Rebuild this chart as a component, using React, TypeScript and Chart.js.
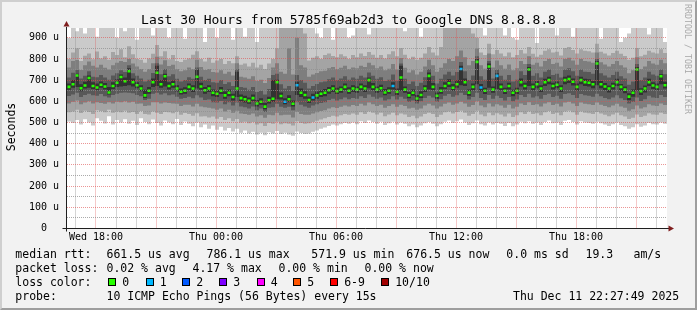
import React, { useEffect, useRef } from 'react';
import { Chart, registerables } from 'chart.js';

Chart.register(...registerables);

const MONO = "'DejaVu Sans Mono', monospace";

// time window (hours since Wed 00:00)
const START_HOUR = 16.55;
const END_HOUR = 46.55;
const SLOT_HOURS = 0.2;

// median RTT per 12-minute slot (microseconds)
const median = [
  668, 680, 722, 662, 675, 710, 672, 665, 678, 670,
  642, 672, 688, 715, 695, 742, 690, 676, 660, 628,
  650, 690, 735, 680, 718, 672, 680, 660, 645, 650,
  668, 660, 716, 670, 652, 660, 640, 636, 650, 628,
  640, 620, 660, 615, 610, 602, 615, 590, 598, 575,
  605, 612, 690, 625, 598, 610, 588, 676, 640, 630,
  606, 618, 628, 636, 640, 652, 660, 648, 655, 668,
  650, 660, 655, 668, 660, 700, 668, 655, 662, 642,
  650, 672, 645, 712, 655, 628, 640, 613, 630, 660,
  720, 668, 626, 650, 672, 685, 664, 680, 752, 690,
  641, 668, 786, 665, 650, 764, 655, 720, 668, 650,
  672, 640, 650, 690, 672, 750, 668, 680, 660, 690,
  700, 672, 678, 660, 700, 705, 692, 668, 700, 690,
  688, 680, 778, 680, 670, 660, 672, 690, 668, 655,
  622, 640, 750, 648, 660, 690, 675, 668, 718, 676,
];

// slots with packet loss (pings lost of 10)
const lossSlots = [54, 57, 61, 81, 98, 103, 107];
const lossCounts = [1, 1, 1, 1, 1, 1, 1];

// smoke bands: sorted ping ranges per slot (outer A .. inner E)
const bandA_lo = [
  505, 498, 512, 490, 515, 500, 486, 520, 508, 495,
  530, 490, 512, 500, 515, 494, 508, 488, 520, 502,
  492, 514, 498, 486, 510, 500, 492, 516, 488, 505,
  494, 482, 500, 478, 490, 470, 486, 466, 480, 462,
  474, 458, 470, 452, 462, 448, 456, 444, 452, 440,
  454, 448, 460, 446, 452, 444, 438, 458, 450, 446,
  448, 456, 462, 470, 476, 484, 490, 486, 492, 498,
  494, 500, 492, 506, 498, 510, 502, 494, 504, 488,
  496, 504, 490, 500, 494, 482, 490, 478, 486, 496,
  502, 494, 482, 492, 504, 510, 498, 506, 514, 500,
  488, 496, 510, 492, 486, 500, 490, 498, 494, 484,
  498, 482, 490, 504, 496, 506, 494, 500, 488, 502,
  510, 496, 500, 488, 508, 512, 502, 490, 506, 500,
  498, 494, 504, 496, 490, 484, 492, 500, 488, 482,
  470, 478, 492, 480, 486, 498, 492, 490, 500, 494,
];
const bandB_lo = [
  548, 552, 560, 545, 556, 550, 540, 558, 554, 548,
  560, 546, 552, 548, 556, 546, 550, 540, 554, 540,
  538, 552, 546, 540, 550, 548, 544, 552, 536, 545,
  540, 532, 544, 528, 530, 524, 528, 518, 526, 512,
  520, 506, 516, 500, 504, 496, 502, 490, 496, 484,
  498, 494, 504, 492, 496, 494, 486, 506, 498, 494,
  496, 502, 508, 514, 520, 526, 532, 528, 534, 540,
  536, 542, 536, 548, 540, 552, 546, 538, 546, 530,
  538, 546, 534, 542, 538, 526, 532, 520, 528, 540,
  546, 540, 526, 536, 548, 552, 542, 550, 556, 546,
  532, 540, 556, 538, 530, 546, 534, 544, 538, 528,
  542, 526, 534, 548, 540, 552, 540, 544, 534, 548,
  554, 540, 546, 534, 552, 556, 548, 536, 552, 546,
  544, 540, 550, 542, 536, 530, 538, 546, 534, 528,
  516, 522, 538, 526, 532, 544, 538, 536, 546, 540,
];
const bandC_lo = [
  590, 598, 604, 586, 594, 600, 590, 596, 592, 588,
  596, 590, 598, 596, 600, 594, 598, 588, 590, 578,
  580, 596, 596, 590, 594, 592, 590, 588, 578, 584,
  584, 576, 588, 576, 572, 570, 566, 560, 566, 552,
  560, 546, 556, 542, 540, 536, 542, 528, 534, 522,
  536, 534, 546, 534, 536, 536, 524, 550, 540, 536,
  536, 542, 548, 554, 558, 566, 572, 568, 574, 580,
  576, 582, 578, 588, 580, 594, 586, 578, 584, 570,
  578, 586, 574, 584, 578, 566, 570, 560, 566, 580,
  588, 580, 566, 576, 588, 594, 584, 590, 598, 590,
  574, 582, 600, 580, 572, 590, 576, 586, 580, 570,
  584, 566, 574, 590, 582, 596, 582, 586, 576, 590,
  596, 582, 588, 576, 594, 598, 590, 578, 594, 588,
  586, 582, 594, 584, 578, 572, 580, 588, 576, 570,
  556, 562, 580, 566, 572, 586, 580, 578, 590, 582,
];
const bandD_lo = [
  625, 632, 640, 620, 630, 636, 628, 626, 634, 624,
  618, 630, 636, 640, 642, 640, 638, 630, 624, 606,
  612, 636, 640, 632, 638, 628, 632, 622, 612, 616,
  622, 614, 628, 618, 606, 608, 596, 594, 602, 586,
  596, 580, 594, 576, 572, 566, 576, 558, 566, 550,
  570, 572, 588, 574, 570, 574, 558, 596, 584, 576,
  570, 580, 586, 592, 596, 606, 612, 604, 610, 618,
  610, 616, 612, 624, 616, 632, 622, 612, 618, 604,
  610, 624, 608, 622, 612, 598, 604, 590, 600, 616,
  626, 618, 598, 610, 626, 634, 622, 628, 640, 630,
  608, 620, 640, 616, 606, 630, 612, 626, 616, 604,
  620, 600, 608, 630, 620, 636, 618, 624, 612, 630,
  636, 620, 626, 612, 634, 638, 630, 616, 634, 628,
  626, 622, 636, 624, 616, 610, 618, 628, 614, 606,
  590, 598, 618, 602, 610, 626, 618, 616, 630, 620,
];
const bandE_lo = [
  655, 664, 668, 648, 660, 664, 658, 652, 664, 656,
  632, 658, 668, 670, 672, 676, 670, 662, 648, 616,
  636, 668, 672, 664, 670, 656, 664, 646, 632, 636,
  652, 644, 660, 654, 636, 644, 624, 620, 634, 612,
  624, 604, 620, 600, 594, 588, 600, 576, 584, 562,
  590, 598, 610, 608, 586, 596, 576, 630, 620, 612,
  592, 604, 612, 620, 624, 636, 644, 634, 640, 652,
  636, 644, 640, 652, 644, 662, 652, 640, 646, 628,
  636, 656, 630, 650, 640, 614, 626, 600, 616, 644,
  656, 652, 612, 636, 658, 668, 650, 664, 676, 672,
  626, 652, 680, 648, 634, 664, 640, 658, 652, 634,
  656, 624, 634, 670, 656, 672, 652, 662, 644, 672,
  680, 656, 662, 644, 680, 686, 674, 650, 680, 672,
  670, 662, 676, 662, 652, 642, 656, 672, 650, 638,
  606, 622, 650, 630, 642, 672, 658, 652, 680, 660,
];
const bandE_hi = [
  684, 700, 730, 680, 692, 722, 690, 684, 694, 686,
  668, 690, 704, 726, 712, 756, 708, 690, 676, 654,
  668, 708, 768, 700, 730, 690, 698, 676, 660, 666,
  684, 676, 750, 688, 668, 676, 656, 652, 668, 646,
  656, 636, 740, 632, 626, 618, 632, 606, 614, 592,
  622, 700, 702, 642, 614, 628, 604, 692, 660, 648,
  622, 636, 646, 652, 658, 668, 676, 664, 670, 684,
  666, 676, 670, 684, 676, 712, 686, 670, 678, 658,
  666, 690, 660, 768, 670, 644, 656, 630, 648, 676,
  736, 686, 642, 668, 690, 704, 682, 700, 768, 708,
  656, 684, 800, 682, 664, 778, 670, 732, 684, 664,
  688, 654, 664, 708, 688, 762, 684, 696, 676, 706,
  716, 688, 694, 676, 716, 722, 708, 684, 716, 706,
  704, 696, 790, 696, 686, 674, 688, 706, 682, 670,
  638, 656, 762, 662, 674, 706, 690, 684, 728, 692,
];
const bandD_hi = [
  712, 735, 748, 708, 720, 742, 716, 714, 724, 712,
  702, 722, 732, 746, 738, 770, 732, 720, 708, 694,
  702, 734, 780, 728, 752, 718, 728, 706, 694, 700,
  714, 706, 760, 716, 700, 706, 690, 688, 700, 682,
  690, 672, 752, 668, 664, 654, 668, 644, 650, 632,
  658, 724, 730, 680, 660, 672, 650, 724, 700, 688,
  660, 672, 682, 690, 694, 704, 712, 700, 708, 718,
  702, 712, 706, 720, 712, 736, 720, 706, 714, 696,
  702, 726, 698, 778, 706, 682, 694, 672, 688, 714,
  752, 720, 684, 706, 726, 740, 722, 738, 786, 742,
  700, 722, 812, 718, 702, 790, 708, 750, 720, 702,
  724, 694, 702, 742, 724, 776, 720, 732, 712, 740,
  750, 724, 730, 712, 750, 756, 742, 720, 750, 740,
  738, 730, 800, 732, 722, 712, 724, 740, 718, 708,
  678, 694, 776, 700, 712, 740, 726, 720, 750, 728,
];
const bandC_hi = [
  760, 790, 795, 748, 770, 788, 768, 760, 772, 758,
  750, 770, 782, 790, 786, 800, 778, 764, 752, 740,
  752, 780, 810, 774, 794, 766, 772, 752, 742, 746,
  760, 752, 796, 762, 748, 752, 738, 736, 746, 730,
  740, 722, 780, 716, 712, 706, 718, 696, 702, 686,
  710, 760, 780, 740, 730, 850, 726, 900, 770, 760,
  716, 726, 734, 742, 744, 756, 762, 752, 758, 768,
  752, 760, 756, 768, 762, 782, 770, 756, 764, 746,
  754, 776, 750, 804, 758, 736, 746, 726, 740, 764,
  796, 770, 740, 758, 780, 800, 790, 812, 840, 808,
  770, 790, 850, 770, 754, 826, 760, 792, 770, 754,
  774, 746, 756, 790, 776, 812, 772, 782, 764, 790,
  800, 776, 782, 764, 800, 806, 792, 772, 800, 790,
  788, 782, 830, 784, 774, 764, 776, 790, 770, 760,
  732, 746, 808, 752, 764, 790, 778, 772, 796, 780,
];
const bandB_hi = [
  800, 830, 850, 790, 815, 826, 798, 835, 802, 812,
  796, 832, 818, 846, 808, 860, 822, 800, 796, 782,
  802, 824, 866, 812, 836, 798, 818, 790, 786, 796,
  802, 820, 836, 800, 788, 806, 782, 792, 800, 776,
  790, 780, 812, 772, 778, 764, 782, 760, 772, 752,
  778, 800, 850, 1000, 1000, 1000, 1000, 1000, 1000, 920,
  792, 806, 812, 800, 818, 826, 814, 808, 822, 812,
  800, 818, 808, 826, 814, 832, 820, 806, 818, 802,
  822, 836, 812, 852, 820, 800, 810, 796, 806, 826,
  856, 830, 816, 856, 1000, 1000, 1000, 1000, 1000, 1000,
  1000, 920, 900, 830, 818, 872, 822, 842, 826, 812,
  830, 808, 818, 842, 826, 856, 824, 810, 820, 838,
  846, 830, 834, 816, 852, 856, 842, 826, 846, 838,
  836, 830, 872, 834, 826, 816, 828, 838, 824, 814,
  796, 806, 852, 812, 820, 838, 830, 826, 846, 828,
];
const bandA_hi = [
  900, 1000, 930, 1000, 920, 1000, 1000, 905, 1000, 1000,
  1000, 1000, 900, 1000, 930, 1000, 1000, 890, 1000, 1000,
  1000, 910, 1000, 1000, 1000, 900, 1000, 1000, 1000, 895,
  1000, 1000, 1000, 1000, 880, 1000, 1000, 900, 1000, 1000,
  1000, 890, 1000, 1000, 905, 1000, 1000, 880, 1000, 1000,
  1000, 1000, 1000, 1000, 1000, 1000, 1000, 1000, 1000, 1000,
  1000, 1000, 920, 900, 1000, 1000, 890, 1000, 1000, 1000,
  900, 910, 1000, 1000, 1000, 915, 1000, 1000, 1000, 1000,
  1000, 1000, 1000, 1000, 930, 1000, 1000, 1000, 905, 1000,
  1000, 1000, 1000, 1000, 1000, 1000, 1000, 1000, 1000, 1000,
  1000, 1000, 1000, 1000, 910, 1000, 1000, 1000, 1000, 910,
  1000, 900, 890, 1000, 1000, 1000, 1000, 875, 1000, 1000,
  1000, 1000, 910, 1000, 1000, 1000, 905, 1000, 1000, 1000,
  1000, 1000, 1000, 895, 1000, 1000, 1000, 1000, 880, 900,
  920, 1000, 1000, 1000, 1000, 915, 1000, 1000, 1000, 880,
];

// axes
const xGridHours = [17, 18, 19, 20, 21, 22, 23, 24, 25, 26, 27, 28, 29, 30, 31, 32, 33, 34, 35, 36, 37, 38, 39, 40, 41, 42, 43, 44, 45, 46];
const xLabelHours = [18, 24, 30, 36, 42];
const xLabels = ['Wed 18:00', 'Thu 00:00', 'Thu 06:00', 'Thu 12:00', 'Thu 18:00'];
const yGridValues = [0, 50, 100, 150, 200, 250, 300, 350, 400, 450, 500, 550, 600, 650, 700, 750, 800, 850, 900];
const yLabelValues = [0, 100, 200, 300, 400, 500, 600, 700, 800, 900];
const yLabels = ['0  ', '100 u', '200 u', '300 u', '400 u', '500 u', '600 u', '700 u', '800 u', '900 u'];
const Y_MAX = 945.8;

// legend
const lossLabels = ['0', '1', '2', '3', '4', '5', '6-9', '10/10'];
const lossColors = ['#26ff00', '#00b8ff', '#0059ff', '#7e00ff', '#ff00ff', '#ff5500', '#ff0000', '#a10000'];
const lossBoxX = [108, 145.5, 182, 219, 256.5, 293, 330, 381];

const SMOKE_COLORS = ['#cacaca', '#a4a4a4', '#7e7e7e', '#585858', '#323232'];
const GRID = 'rgba(143,143,143,0.75)';
const MGRID = 'rgba(222,79,79,0.6)';
const MEDIAN_HALF = 6;

const lossColorIndex = (c: number) => (c <= 5 ? c : c < 10 ? 6 : 7);

const rrdPlugin = {
  id: 'rrdCanvas',
  beforeDraw(chart: any) {
    const { ctx, chartArea } = chart;
    ctx.save();
    ctx.fillStyle = '#ffffff';
    ctx.fillRect(chartArea.left, chartArea.top, chartArea.right - chartArea.left, chartArea.bottom - chartArea.top);
    ctx.restore();
  },
  afterDatasetsDraw(chart: any) {
    // dotted rrdtool grid drawn over the smoke
    const { ctx, chartArea, scales } = chart;
    ctx.save();
    ctx.lineWidth = 1;
    ctx.setLineDash([1, 1]);
    scales.x.ticks.forEach((t: any) => {
      const px = Math.floor(scales.x.getPixelForValue(t.value)) + 0.5;
      ctx.strokeStyle = t.value % 3 === 0 ? MGRID : GRID;
      ctx.beginPath();
      ctx.moveTo(px, chartArea.bottom);
      ctx.lineTo(px, chartArea.top);
      ctx.stroke();
    });
    scales.y.ticks.forEach((t: any) => {
      if (t.value === 0) return;
      const py = Math.floor(scales.y.getPixelForValue(t.value)) + 0.5;
      ctx.strokeStyle = t.value % 100 === 0 ? MGRID : GRID;
      ctx.beginPath();
      ctx.moveTo(chartArea.left, py);
      ctx.lineTo(chartArea.right, py);
      ctx.stroke();
    });
    ctx.restore();
  },
  afterDraw(chart: any) {
    const { ctx, chartArea } = chart;
    const y0 = Math.floor(chart.scales.y.getPixelForValue(0)) + 0.5;
    const x0 = Math.round(chartArea.left) - 0.5;
    ctx.save();
    ctx.strokeStyle = '#1f1f1f';
    ctx.lineWidth = 1;
    ctx.beginPath();
    ctx.moveTo(x0 - 4, y0);
    ctx.lineTo(chartArea.right + 2, y0);
    ctx.moveTo(x0, y0 + 3);
    ctx.lineTo(x0, chartArea.top - 1);
    ctx.stroke();
    ctx.fillStyle = '#801f1f';
    ctx.beginPath();
    ctx.moveTo(chartArea.right + 1.5, y0 - 3);
    ctx.lineTo(chartArea.right + 7, y0);
    ctx.lineTo(chartArea.right + 1.5, y0 + 3);
    ctx.closePath();
    ctx.fill();
    ctx.beginPath();
    ctx.moveTo(x0 - 3, chartArea.top - 1.5);
    ctx.lineTo(x0, chartArea.top - 7);
    ctx.lineTo(x0 + 3, chartArea.top - 1.5);
    ctx.closePath();
    ctx.fill();
    ctx.restore();
  },
};

function Txt(props: { x: number; base: number; size: number; color?: string; children: any }) {
  const { x, base, size, color, children } = props;
  return (
    <div
      style={{
        position: 'absolute',
        left: x,
        top: base - 0.846 * size,
        fontSize: size,
        lineHeight: `${size}px`,
        whiteSpace: 'pre',
        color: color || '#000',
        fontFamily: MONO,
      }}
    >
      {children}
    </div>
  );
}

export default function App() {
  const ref = useRef<HTMLCanvasElement | null>(null);

  useEffect(() => {
    if (!ref.current) return;
    const slotHours = median.map((_, i) => START_HOUR + SLOT_HOURS * (i + 0.5));
    const band = (lo: number[], hi: number[]) => lo.map((v, i) => ({ x: slotHours[i], y: [v, hi[i]] }));
    const medianColors = median.map((_, i) => {
      const k = lossSlots.indexOf(i);
      return lossColors[lossColorIndex(k >= 0 ? lossCounts[k] : 0)];
    });
    const common = {
      type: 'bar' as const,
      grouped: false,
      barPercentage: 1,
      categoryPercentage: 1,
      borderWidth: 0,
      borderSkipped: false,
      inflateAmount: 0,
      clip: 0,
    };
    const chart = new Chart(ref.current, {
      type: 'bar',
      data: {
        datasets: [
          {
            ...common,
            label: 'median',
            data: median.map((m, i) => ({ x: slotHours[i], y: [m - MEDIAN_HALF, m + MEDIAN_HALF] })),
            backgroundColor: medianColors,
            barThickness: 3,
          },
          { ...common, label: 'E', data: band(bandE_lo, bandE_hi), backgroundColor: SMOKE_COLORS[4] },
          { ...common, label: 'D', data: band(bandD_lo, bandD_hi), backgroundColor: SMOKE_COLORS[3] },
          { ...common, label: 'C', data: band(bandC_lo, bandC_hi), backgroundColor: SMOKE_COLORS[2] },
          { ...common, label: 'B', data: band(bandB_lo, bandB_hi), backgroundColor: SMOKE_COLORS[1] },
          { ...common, label: 'A', data: band(bandA_lo, bandA_hi), backgroundColor: SMOKE_COLORS[0] },
        ] as any,
      },
      options: {
        animation: false,
        responsive: false,
        devicePixelRatio: 1,
        events: [],
        layout: { padding: { top: 28, right: 30, left: 0, bottom: 0 } },
        plugins: { legend: { display: false }, tooltip: { enabled: false }, title: { display: false } },
        scales: {
          x: {
            type: 'linear',
            min: START_HOUR,
            max: END_HOUR,
            position: 'bottom',
            offset: false,
            afterFit: (s: any) => {
              s.height = 81.5;
            },
            afterBuildTicks: (s: any) => {
              s.ticks = xGridHours.map((v) => ({ value: v }));
            },
            ticks: {
              autoSkip: false,
              maxRotation: 0,
              minRotation: 0,
              padding: 3,
              color: '#000',
              font: { family: MONO, size: 10 },
              callback: (v: any) => {
                const k = xLabelHours.indexOf(Number(v));
                return k >= 0 ? xLabels[k] : '';
              },
            },
            grid: { display: true, drawOnChartArea: false, drawTicks: false },
            border: { display: false },
          },
          y: {
            type: 'linear',
            min: 0,
            max: Y_MAX,
            afterFit: (s: any) => {
              s.width = 67;
            },
            afterBuildTicks: (s: any) => {
              s.ticks = yGridValues.map((v) => ({ value: v }));
            },
            ticks: {
              autoSkip: false,
              padding: 8,
              color: '#000',
              font: { family: MONO, size: 10 },
              callback: (v: any) => {
                const k = yLabelValues.indexOf(Number(v));
                return k >= 0 ? yLabels[k] : '';
              },
            },
            grid: { display: true, drawOnChartArea: false, drawTicks: false },
            border: { display: false },
          },
        } as any,
      },
      plugins: [rrdPlugin],
    });
    return () => chart.destroy();
  }, []);

  const L1 = 258.5;
  const L2 = 272.5;
  const L3 = 286.5;
  const L4 = 300.3;
  const FS = 11.5;

  return (
    <div
      style={{
        position: 'absolute',
        left: 0,
        top: 0,
        width: 697,
        height: 310,
        background: '#f2f2f2',
        overflow: 'hidden',
        fontFamily: MONO,
      }}
    >
      <canvas ref={ref} width={697} height={310} style={{ position: 'absolute', left: 0, top: 0, width: 697, height: 310 }} />
      <div
        style={{
          position: 'absolute',
          left: 0,
          width: 697,
          top: 24 - 0.846 * 13,
          fontSize: 13,
          lineHeight: '13px',
          textAlign: 'center',
          whiteSpace: 'pre',
          color: '#000',
        }}
      >
        Last 30 Hours from 5785f69ab2d3 to Google DNS 8.8.8.8
      </div>
      <div
        style={{
          position: 'absolute',
          left: 10.8 - 40,
          top: 126.5 - 7,
          width: 80,
          height: 14,
          lineHeight: '14px',
          fontSize: FS,
          textAlign: 'center',
          transform: 'rotate(-90deg)',
          color: '#000',
        }}
      >
        Seconds
      </div>
      <div
        style={{
          position: 'absolute',
          left: 688 - 70,
          top: 59 - 6,
          width: 140,
          height: 12,
          lineHeight: '12px',
          fontSize: 8.3,
          textAlign: 'center',
          transform: 'rotate(90deg)',
          color: '#aaaaaa',
          whiteSpace: 'pre',
        }}
      >
        RRDTOOL / TOBI OETIKER
      </div>

      <Txt x={15.3} base={L1} size={FS}>median rtt:</Txt>
      <Txt x={106.5} base={L1} size={FS}>661.5 us avg</Txt>
      <Txt x={206.5} base={L1} size={FS}>786.1 us max</Txt>
      <Txt x={311.3} base={L1} size={FS}>571.9 us min</Txt>
      <Txt x={406.3} base={L1} size={FS}>676.5 us now</Txt>
      <Txt x={506.3} base={L1} size={FS}>0.0 ms sd</Txt>
      <Txt x={585.5} base={L1} size={FS}>19.3</Txt>
      <Txt x={633.5} base={L1} size={FS}>am/s</Txt>

      <Txt x={15.3} base={L2} size={FS}>packet loss:</Txt>
      <Txt x={106.5} base={L2} size={FS}>0.02 % avg</Txt>
      <Txt x={192.5} base={L2} size={FS}>4.17 % max</Txt>
      <Txt x={278.5} base={L2} size={FS}>0.00 % min</Txt>
      <Txt x={364.5} base={L2} size={FS}>0.00 % now</Txt>

      <Txt x={15.3} base={L3} size={FS}>loss color:</Txt>
      {lossLabels.map((lab, i) => (
        <React.Fragment key={lab}>
          <div
            style={{
              position: 'absolute',
              left: lossBoxX[i],
              top: 278,
              width: 8,
              height: 8,
              boxSizing: 'border-box',
              border: '1px solid #000',
              background: lossColors[i],
            }}
          />
          <Txt x={lossBoxX[i] + 14.2} base={L3} size={FS}>{lab}</Txt>
        </React.Fragment>
      ))}

      <Txt x={15.3} base={L4} size={FS}>probe:</Txt>
      <Txt x={106.5} base={L4} size={FS}>10 ICMP Echo Pings (56 Bytes) every 15s</Txt>
      <Txt x={513} base={L4} size={FS}>Thu Dec 11 22:27:49 2025</Txt>

      <div
        style={{
          position: 'absolute',
          left: 0,
          top: 0,
          width: 697,
          height: 310,
          boxSizing: 'border-box',
          borderTop: '2px solid #cfcfcf',
          borderLeft: '2px solid #cfcfcf',
          borderBottom: '2px solid #9e9e9e',
          borderRight: '2px solid #9e9e9e',
          pointerEvents: 'none',
        }}
      />
    </div>
  );
}
